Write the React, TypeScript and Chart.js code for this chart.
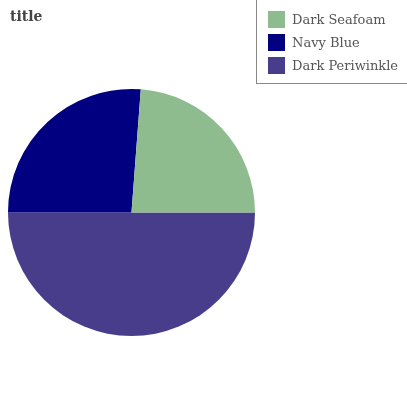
import React, { useEffect, useRef } from "react";
import { Chart, registerables } from "chart.js";

Chart.register(...registerables);

const labels = ["Dark Seafoam", "Navy Blue", "Dark Periwinkle"];
const values = [23.8, 26.2, 50];
const colors = ["#8fbc8f", "#000080", "#483d8b"];
const titleText = "title";

export default function App() {
  const ref = useRef<HTMLCanvasElement | null>(null);
  useEffect(() => {
    if (!ref.current) return;
    const order = [2, 1, 0];
    const chart = new Chart(ref.current, {
      type: "pie",
      data: {
        labels: order.map((i) => labels[i]),
        datasets: [
          {
            data: order.map((i) => values[i]),
            backgroundColor: order.map((i) => colors[i]),
            borderWidth: 0,
          },
        ],
      },
      options: {
        responsive: false,
        animation: false,
        rotation: 90,
        layout: { padding: { left: 8, right: 152, top: 89, bottom: 64 } },
        plugins: { legend: { display: false }, title: { display: false }, tooltip: { enabled: false } },
      },
    });
    return () => chart.destroy();
  }, []);
  const font = "'DejaVu Serif', serif";
  return (
    <div style={{ position: "fixed", left: 0, top: 0, width: 407, height: 400, background: "#fff", overflow: "hidden" }}>
      <canvas ref={ref} width={407} height={400} style={{ position: "absolute", left: 0, top: 0 }} />
      <div style={{ position: "absolute", left: 10, top: 8, fontFamily: font, fontWeight: "bold", fontSize: 14, lineHeight: "16px", color: "#444" }}>
        {titleText}
      </div>
      <div
        style={{
          position: "absolute",
          left: 256,
          top: -1,
          width: 160,
          height: 85,
          border: "1px solid #888",
          boxSizing: "border-box",
        }}
      >
        {labels.map((l, i) => (
          <div key={l} style={{ position: "absolute", left: 11, top: 11 + i * 23, height: 17, display: "flex", alignItems: "center" }}>
            <div style={{ width: 17, height: 17, background: colors[i] }} />
            <span style={{ marginLeft: 7, fontFamily: font, fontSize: 13, color: "#555", whiteSpace: "nowrap" }}>{l}</span>
          </div>
        ))}
      </div>
    </div>
  );
}
